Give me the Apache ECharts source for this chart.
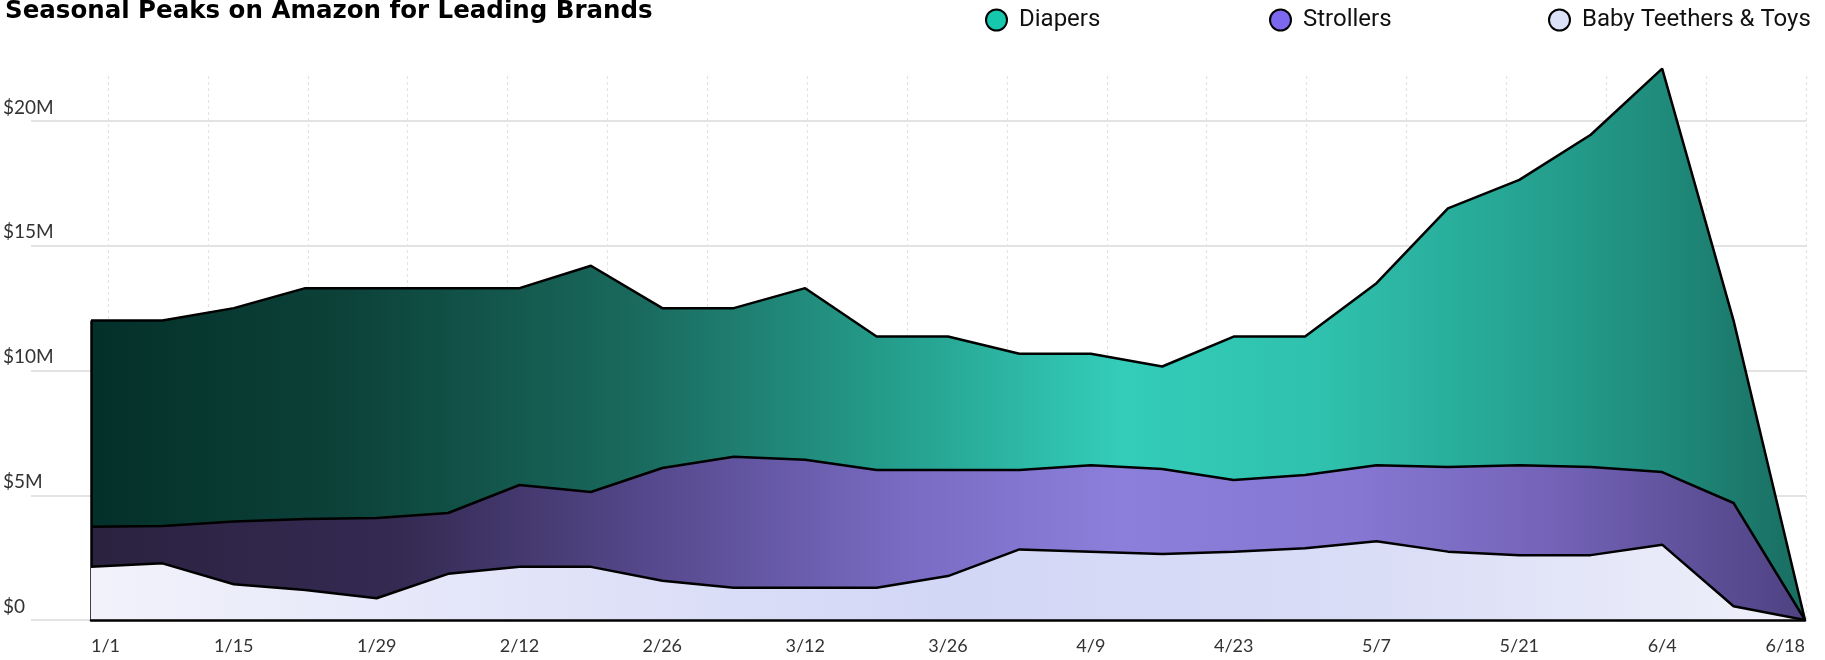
<!DOCTYPE html>
<html><head><meta charset="utf-8">
<script src="https://cdn.jsdelivr.net/npm/echarts@6/dist/echarts.min.js"></script>
<style>html,body{margin:0;padding:0;background:#fff}#c{width:1825px;height:660px}</style>
</head><body><div id="c"></div>
<script>
// weekly dates
const categories = ['1/1','1/8','1/15','1/22','1/29','2/5','2/12','2/19','2/26','3/5','3/12','3/19','3/26','4/2','4/9','4/16','4/23','4/30','5/7','5/14','5/21','5/28','6/4','6/11','6/18'];
// values in $M
const teethers  = [2.13,2.27,1.43,1.20,0.87,1.85,2.13,2.13,1.57,1.29,1.29,1.29,1.76,2.83,2.74,2.65,2.74,2.88,3.16,2.74,2.60,2.60,3.02,0.55,0];
const strollers = [1.61,1.50,2.52,2.85,3.22,2.44,3.28,3.00,4.52,5.25,5.13,4.72,4.25,3.18,3.46,3.40,2.87,2.93,3.04,3.39,3.60,3.53,2.91,4.14,0];
const diapers   = [8.26,8.23,8.55,9.25,9.21,9.01,7.89,9.07,6.41,5.96,6.88,5.35,5.35,4.66,4.47,4.11,5.75,5.55,7.30,10.37,11.44,13.32,16.17,7.31,0];
const yTickStep = 5;   // $M
const yTickMax = 20;   // $M
const seriesNames = ['Diapers','Strollers','Baby Teethers & Toys'];
const titleText = 'Seasonal Peaks on Amazon for Leading Brands';

const chart = echarts.init(document.getElementById('c'));
const baseY = 620, topTickY = 121;
const pxPerM = (baseY - topTickY) / yTickMax;
const dataMax = 22.5;
const H = 660;

function grad(stops){
  return new echarts.graphic.LinearGradient(0,0,1,0, stops.map(s=>({offset:s[0],color:s[1]})));
}
const diaperFill = grad([[0,'#04302a'],[0.15,'#0c4239'],[0.32,'#1a6a5e'],[0.48,'#26a290'],[0.6,'#33cdb9'],[0.72,'#2fc1ad'],[0.83,'#26a594'],[0.92,'#1f8a7a'],[1,'#196d61']]);
const strollerFill = grad([[0,'#2b2240'],[0.18,'#342a52'],[0.32,'#54478a'],[0.48,'#7a6cc4'],[0.6,'#8b7fdb'],[0.74,'#8577d2'],[0.85,'#7463b8'],[1,'#4e4282']]);
const teetherFill = grad([[0,'#f2f2fb'],[0.3,'#dfe1f8'],[0.5,'#d2d7f6'],[0.75,'#d9ddf6'],[1,'#f0f0fa']]);

const blackLine = {color:'#000', width:2.5};
function legendFor(name, left, color){
  return {
    data:[{name:name, itemStyle:{color:color, borderColor:'#000', borderWidth:2}}],
    left:left, top:3, icon:'circle', itemWidth:21, itemHeight:21,
    textStyle:{fontFamily:'Roboto', fontSize:24, color:'#111', padding:[0,0,0,7]},
    selectedMode:false
  };
}

chart.setOption({
  animation:false,
  backgroundColor:'#fff',
  title:{text:titleText, left:0, top:-6, textStyle:{fontFamily:'DejaVu Sans', fontWeight:'bold', fontSize:24.5, color:'#000'}},
  legend:[
    legendFor(seriesNames[0], 980, '#14c7ad'),
    legendFor(seriesNames[1], 1264, '#7b68ee'),
    legendFor(seriesNames[2], 1543, '#dbe2f8')
  ],
  grid:[
    {left:30, right:19, top:topTickY, bottom:H-baseY},
    {left:108, right:19, top:76, bottom:H-baseY},
    {left:91, right:20, top:baseY - dataMax*pxPerM, bottom:H-baseY}
  ],
  xAxis:[
    {gridIndex:0, type:'value', min:0, max:1, show:false},
    {gridIndex:1, type:'value', min:0, max:17, interval:1, axisLine:{show:false}, axisTick:{show:false}, axisLabel:{show:false},
     splitLine:{show:true, lineStyle:{color:'#e4e4e4', type:[3,3], width:1.2}}},
    {gridIndex:2, type:'category', data:categories, boundaryGap:false,
     axisLine:{show:true, lineStyle:{color:'#000', width:2.5}}, axisTick:{show:false}, splitLine:{show:false},
     axisLabel:{interval:1, fontFamily:'Lato', fontSize:18, color:'#333', margin:17, alignMinLabel:'left', alignMaxLabel:'right'}, z:10}
  ],
  yAxis:[
    {gridIndex:0, type:'value', min:0, max:yTickMax, interval:yTickStep,
     axisLine:{show:false}, axisTick:{show:false},
     splitLine:{show:true, lineStyle:{color:'#e3e3e3', width:2}},
     axisLabel:{formatter:v=> v===0 ? '$0' : '$'+v+'M', align:'left', verticalAlign:'bottom', margin:28,
       padding:[0,0,4,0], fontFamily:'Lato', fontSize:19, color:'#333'}},
    {gridIndex:1, type:'value', min:0, max:1, show:false},
    {gridIndex:2, type:'value', min:0, max:dataMax, show:false}
  ],
  series:[
    {name:seriesNames[2], type:'line', stack:'total', xAxisIndex:2, yAxisIndex:2, data:teethers, symbol:'none',
     lineStyle:blackLine, areaStyle:{color:teetherFill, opacity:1}, itemStyle:{color:'#dbe2f8'}, z:5,
     markLine:{silent:true, symbol:'none', label:{show:false}, lineStyle:{color:'#000', width:2.5, type:'solid'},
       data:[[{coord:[categories[0],0]},{coord:[categories[0], teethers[0]+strollers[0]+diapers[0]]}]]}},
    {name:seriesNames[1], type:'line', stack:'total', xAxisIndex:2, yAxisIndex:2, data:strollers, symbol:'none',
     lineStyle:blackLine, areaStyle:{color:strollerFill, opacity:1}, itemStyle:{color:'#7b68ee'}, z:4},
    {name:seriesNames[0], type:'line', stack:'total', xAxisIndex:2, yAxisIndex:2, data:diapers, symbol:'none',
     lineStyle:blackLine, areaStyle:{color:diaperFill, opacity:1}, itemStyle:{color:'#14c7ad'}, z:3}
  ]
});
</script></body></html>
